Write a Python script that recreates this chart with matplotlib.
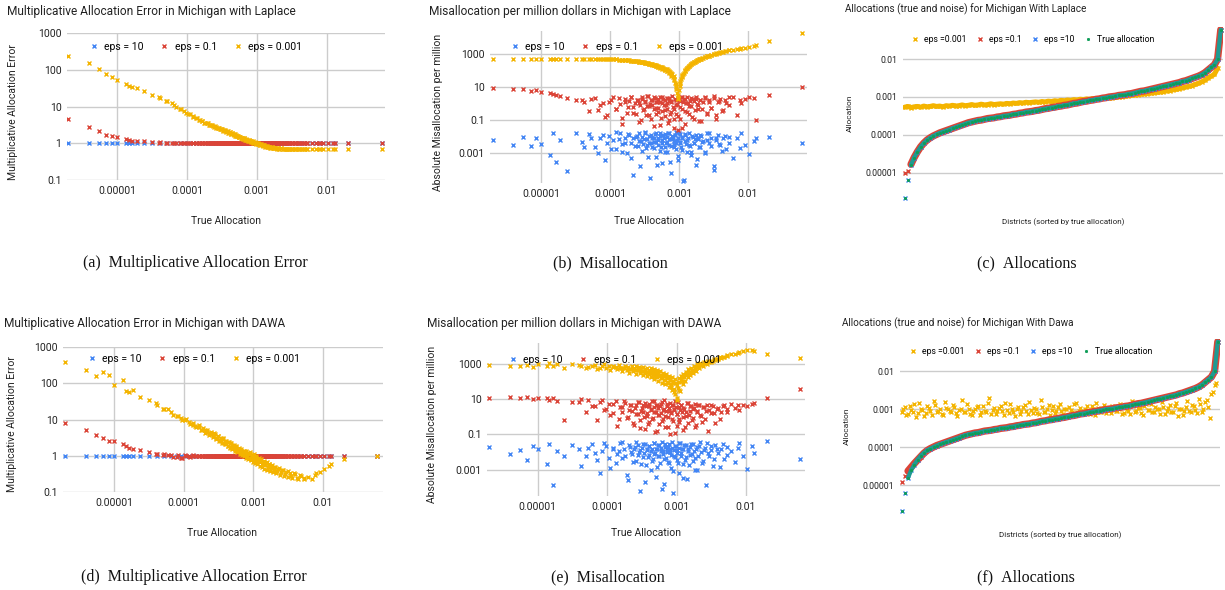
import matplotlib
matplotlib.use("Agg")
import matplotlib.pyplot as plt
import numpy as np

# ---- data (log10 values) ----

# true allocation of each district (sorted), used as x in panels a, b, d, e
TRUE_LOG = [-5.70, -5.40, -5.26, -5.15, -5.07, -5.00, -4.87, -4.83, -4.78, -4.72,
            -4.62, -4.50, -4.38, -4.28, -4.18, -4.10, -4.04, -3.98, -3.92, -3.87,
            -3.83, -3.78, -3.74, -3.70, -3.67, -3.64, -3.61, -3.58, -3.56, -3.54,
            -3.52, -3.50, -3.48, -3.46, -3.44, -3.42, -3.40, -3.39, -3.37, -3.36,
            -3.34, -3.33, -3.31, -3.30, -3.28, -3.27, -3.25, -3.24, -3.22, -3.21,
            -3.20, -3.18, -3.17, -3.15, -3.14, -3.12, -3.11, -3.09, -3.08, -3.06,
            -3.05, -3.03, -3.02, -3.00, -2.99, -2.97, -2.96, -2.94, -2.92, -2.91,
            -2.89, -2.87, -2.85, -2.83, -2.81, -2.79, -2.77, -2.75, -2.73, -2.71,
            -2.69, -2.66, -2.63, -2.60, -2.57, -2.54, -2.50, -2.46, -2.42, -2.38,
            -2.33, -2.28, -2.22, -2.16, -2.12, -2.10, -2.05, -1.99, -1.92, -1.88,
            -1.70, -1.22]
# more districts in the crowded middle range
MID_LOG = [-4.40, -4.30, -4.22, -4.15, -4.08, -4.02, -3.96, -3.91, -3.86, -3.82,
           -3.78, -3.75, -3.72, -3.69, -3.66, -3.63, -3.60, -3.58, -3.55, -3.53,
           -3.51, -3.49, -3.47, -3.45, -3.43, -3.41, -3.39, -3.37, -3.35, -3.33,
           -3.32, -3.30, -3.28, -3.26, -3.25, -3.23, -3.21, -3.19, -3.18, -3.16,
           -3.14, -3.13, -3.11, -3.10, -3.08, -3.07, -3.05, -3.04, -3.02, -3.01,
           -2.99, -2.98, -2.96, -2.95, -2.93, -2.91, -2.90, -2.88, -2.86, -2.84,
           -2.82, -2.80, -2.78, -2.76, -2.74, -2.72, -2.70, -2.68, -2.65, -2.62,
           -2.59, -2.56, -2.53, -2.50, -2.47, -2.44, -2.40, -2.36, -2.32, -2.28]

# (a) multiplicative error, Laplace
A_EPS10 = [0.0] * 102
A_EPS01 = [0.65, 0.44, 0.32, 0.23, 0.21, 0.16, 0.11, 0.08, 0.07, 0.06,
           0.05, 0.04, 0.03, 0.02, 0.015, 0.01, 0.01, 0.005, 0.005, 0.0] + [0.0] * 82
A_EPS0001 = [2.38, 2.18, 2.02, 1.89, 1.80, 1.71, 1.62, 1.57, 1.54, 1.50,
             1.41, 1.30, 1.22, 1.14, 1.03, 0.93, 0.87, 0.80, 0.74, 0.69,
             0.64, 0.61, 0.56, 0.54, 0.50, 0.49, 0.45, 0.44, 0.41, 0.41,
             0.38, 0.38, 0.34, 0.35, 0.31, 0.32, 0.29, 0.30, 0.26, 0.27,
             0.24, 0.25, 0.21, 0.22, 0.19, 0.20, 0.16, 0.17, 0.14, 0.15,
             0.12, 0.13, 0.10, 0.11, 0.08, 0.09, 0.06, 0.07, 0.04, 0.05,
             0.02, 0.03, 0.00, 0.01, -0.02, -0.01, -0.04, -0.03, -0.06, -0.05,
             -0.08, -0.07, -0.10, -0.09, -0.12, -0.10, -0.13, -0.12, -0.14, -0.13,
             -0.15, -0.14, -0.16, -0.15, -0.17, -0.15, -0.17, -0.16, -0.17, -0.15,
             -0.17, -0.16, -0.17, -0.16, -0.17, -0.16, -0.16, -0.17, -0.16, -0.16,
             -0.16, -0.16]
A_MID_EPS01 = [0.0] * 80
A_MID_EPS0001 = [1.25, 1.15, 1.09, 0.98, 0.92, 0.83, 0.79, 0.72, 0.69, 0.62,
                 0.61, 0.56, 0.56, 0.51, 0.50, 0.46, 0.46, 0.42, 0.42, 0.38,
                 0.39, 0.35, 0.36, 0.32, 0.33, 0.29, 0.30, 0.26, 0.27, 0.23,
                 0.24, 0.20, 0.21, 0.17, 0.18, 0.15, 0.15, 0.12, 0.13, 0.10,
                 0.10, 0.07, 0.08, 0.05, 0.06, 0.03, 0.04, 0.01, 0.02, -0.01,
                 0.00, -0.03, -0.02, -0.05, -0.04, -0.07, -0.06, -0.09, -0.08, -0.11,
                 -0.09, -0.12, -0.11, -0.13, -0.12, -0.15, -0.13, -0.16, -0.14, -0.17,
                 -0.15, -0.17, -0.16, -0.17, -0.15, -0.17, -0.16, -0.17, -0.15, -0.16]

# (b) misallocation per million, Laplace
B_EPS10 = [-2.18, -2.50, -2.00, -2.55, -2.05, -2.45, -3.10, -1.80, -3.55, -2.20,
           -4.10, -1.75, -2.60, -2.05, -3.00, -1.90, -2.35, -2.75, -1.70, -2.15,
           -2.90, -2.40, -1.85, -3.30, -2.10, -2.55, -1.95, -2.25, -3.80, -2.00,
           -2.45, -1.80, -2.70, -2.15, -2.35, -4.50, -1.90, -2.60, -2.05, -2.30,
           -3.20, -1.75, -2.50, -2.20, -2.85, -1.95, -2.40, -3.60, -2.10, -2.65,
           -1.85, -2.30, -2.95, -2.15, -1.78, -2.55, -4.20, -2.05, -2.45, -1.90,
           -2.75, -2.20, -3.40, -1.80, -2.35, -2.60, -2.00, -4.70, -2.25, -1.85,
           -2.90, -2.10, -2.50, -3.10, -1.95, -2.40, -2.15, -3.70, -2.05, -2.65,
           -1.90, -2.30, -3.00, -2.20, -1.80, -2.55, -4.00, -2.10, -2.45, -2.85,
           -1.95, -2.35, -3.30, -2.05, -2.70, -1.75, -2.50, -3.05, -2.25, -2.10,
           -2.00, -2.35]
B_EPS01 = [0.93, 0.87, 0.86, 0.75, 0.80, 0.70, 0.62, 0.58, 0.50, 0.45,
           0.35, 0.25, 0.10, 0.30, -0.40, 0.05, -0.70, 0.20, -0.30, 0.35,
           -0.85, 0.10, -0.20, 0.40, -0.55, 0.05, 0.25, -1.10, -0.05, 0.30,
           -0.40, 0.15, -0.70, 0.45, -0.15, 0.00, -0.95, 0.20, -0.35, 0.38,
           -0.60, 0.08, -0.25, 0.30, -1.30, 0.12, -0.45, 0.42, -0.10, -0.75,
           0.25, -0.30, 0.05, -1.00, 0.35, -0.50, 0.15, -0.20, -1.45, 0.30,
           -0.65, 0.00, -1.60, 0.20, -0.90, 0.40, -0.35, 0.10, -1.20, 0.28,
           -0.50, 0.05, -0.15, 0.35, -0.80, 0.18, -0.40, 0.30, -0.05, -1.05,
           0.22, -0.30, 0.40, -0.60, 0.10, -0.25, 0.32, -0.90, 0.15, -0.45,
           0.25, -0.10, 0.38, -0.70, 0.20, 0.05, 0.30, 0.42, 0.35, -1.00,
           0.50, 1.00]
B_EPS0001 = [2.70, 2.72, 2.72, 2.72, 2.71, 2.72, 2.73, 2.72, 2.73, 2.72,
             2.73, 2.72, 2.71, 2.72, 2.70, 2.71, 2.69, 2.70, 2.68, 2.67,
             2.66, 2.64, 2.63, 2.61, 2.60, 2.58, 2.57, 2.55, 2.53, 2.52,
             2.50, 2.48, 2.46, 2.44, 2.42, 2.40, 2.38, 2.36, 2.34, 2.32,
             2.30, 2.28, 2.25, 2.23, 2.20, 2.18, 2.15, 2.12, 2.09, 2.06,
             2.03, 1.99, 1.95, 1.90, 1.85, 1.78, 1.70, 1.60, 1.45, 1.25,
             1.00, 0.65, 0.35, 0.85, 1.25, 1.50, 1.68, 1.82, 1.95, 2.05,
             2.14, 2.23, 2.31, 2.38, 2.44, 2.50, 2.55, 2.60, 2.64, 2.68,
             2.72, 2.77, 2.82, 2.87, 2.91, 2.95, 3.00, 3.05, 3.09, 3.13,
             3.18, 3.22, 3.27, 3.31, 3.34, 3.35, 3.40, 3.45, 3.51, 3.54,
             3.77, 4.28]
B_MID_EPS10 = [-2.30, -1.85, -2.60, -2.05, -3.40, -1.95, -2.20, -2.75, -1.75, -2.45,
               -2.10, -3.00, -1.90, -2.35, -4.30, -2.00, -2.55, -1.80, -2.25, -2.85,
               -2.15, -1.70, -2.50, -3.25, -1.95, -2.40, -2.05, -2.70, -1.85, -2.30,
               -3.70, -2.10, -1.75, -2.60, -2.20, -1.90, -2.95, -2.35, -2.00, -1.80,
               -2.50, -3.50, -2.15, -1.95, -2.65, -2.25, -1.72, -2.40, -3.15, -2.05,
               -2.30, -1.85, -2.80, -2.10, -4.60, -1.90, -2.45, -2.20, -1.78, -2.55,
               -2.95, -2.00, -2.35, -1.88, -3.35, -2.15, -2.60, -1.95, -2.25, -2.90,
               -1.80, -2.40, -2.05, -3.80, -2.20, -1.92, -2.50, -2.10, -2.75, -2.00]
B_MID_EPS01 = [0.20, -0.45, 0.35, -0.10, -0.80, 0.10, 0.40, -0.30, 0.00, -1.20,
               0.30, -0.55, 0.15, 0.42, -0.20, -0.65, 0.25, 0.05, -1.00, 0.38,
               -0.35, 0.10, -0.15, 0.45, -0.70, 0.20, -0.05, -1.35, 0.32, -0.25,
               0.12, -0.50, 0.40, -0.85, 0.02, 0.28, -0.40, -0.10, 0.36, -1.15,
               0.18, -0.60, 0.08, 0.44, -0.30, -0.95, 0.22, -0.05, 0.34, -0.75,
               0.14, -0.20, 0.40, -1.50, 0.26, -0.45, 0.06, 0.38, -0.65, 0.16,
               -0.15, 0.30, -0.90, 0.42, 0.00, -0.35, 0.24, -1.05, 0.10, 0.36,
               -0.55, 0.20, -0.25, 0.44, -0.70, 0.12, 0.30, -0.40, 0.05, 0.38]
B_MID_EPS0001 = [2.71, 2.72, 2.70, 2.71, 2.69, 2.70, 2.68, 2.68, 2.66, 2.66,
                 2.64, 2.63, 2.62, 2.61, 2.59, 2.58, 2.56, 2.55, 2.53, 2.52,
                 2.50, 2.48, 2.46, 2.45, 2.43, 2.41, 2.38, 2.36, 2.34, 2.32,
                 2.30, 2.28, 2.25, 2.22, 2.20, 2.17, 2.13, 2.10, 2.07, 2.02,
                 1.97, 1.93, 1.85, 1.78, 1.65, 1.50, 1.20, 0.90, 0.55, 0.30,
                 1.10, 1.40, 1.62, 1.75, 1.88, 2.00, 2.08, 2.17, 2.26, 2.33,
                 2.40, 2.46, 2.52, 2.57, 2.62, 2.66, 2.70, 2.73, 2.78, 2.83,
                 2.87, 2.91, 2.95, 2.99, 3.02, 3.05, 3.10, 3.14, 3.18, 3.22]

# (d) multiplicative error, DAWA
D_EPS10 = [0.0] * 102
D_EPS01 = [0.90, 0.70, 0.57, 0.50, 0.41, 0.40, 0.32, 0.28, 0.22, 0.18,
           0.15, 0.10, 0.06, 0.04, 0.02, -0.03, -0.06, 0.01, -0.02, 0.0] + [0.0] * 82
D_EPS0001 = [2.59, 2.36, 2.20, 2.30, 2.22, 1.95, 2.08, 1.80, 1.76, 1.82,
             1.62, 1.55, 1.40, 1.30, 1.22, 1.10, 1.05, 0.98, 0.92, 0.85,
             0.82, 0.80, 0.72, 0.70, 0.66, 0.62, 0.60, 0.56, 0.62, 0.50,
             0.48, 0.54, 0.44, 0.42, 0.48, 0.36, 0.40, 0.33, 0.38, 0.28,
             0.34, 0.25, 0.30, 0.22, 0.27, 0.18, 0.24, 0.14, 0.20, 0.12,
             0.18, 0.08, 0.14, 0.04, 0.12, 0.02, 0.08, -0.02, 0.06, -0.05,
             0.10, -0.08, 0.00, -0.10, 0.05, -0.12, -0.02, -0.15, -0.05, -0.18,
             -0.10, -0.22, -0.14, -0.26, -0.18, -0.30, -0.22, -0.34, -0.26, -0.38,
             -0.30, -0.42, -0.34, -0.45, -0.38, -0.50, -0.42, -0.55, -0.48, -0.60,
             -0.52, -0.63, -0.58, -0.65, -0.52, -0.48, -0.45, -0.36, -0.27, -0.24,
             -0.08, 0.00]
D_MID_EPS01 = [0.04, 0.03, 0.02, -0.03, 0.01, -0.06, 0.00, -0.04, 0.01, -0.02] + [0.0] * 70
D_MID_EPS0001 = [1.45, 1.30, 1.28, 1.12, 1.10, 0.98, 1.02, 0.88, 0.90, 0.78,
                 0.86, 0.72, 0.76, 0.64, 0.70, 0.58, 0.66, 0.52, 0.60, 0.46,
                 0.55, 0.42, 0.50, 0.36, 0.47, 0.32, 0.42, 0.28, 0.38, 0.22,
                 0.34, 0.18, 0.30, 0.14, 0.26, 0.10, 0.22, 0.06, 0.18, 0.02,
                 0.14, -0.02, 0.12, -0.06, 0.08, -0.10, 0.05, -0.13, 0.02, -0.16,
                 -0.01, -0.20, -0.05, -0.24, -0.08, -0.28, -0.12, -0.32, -0.16, -0.36,
                 -0.20, -0.38, -0.24, -0.42, -0.28, -0.45, -0.32, -0.48, -0.36, -0.52,
                 -0.40, -0.55, -0.44, -0.58, -0.48, -0.62, -0.50, -0.64, -0.55, -0.60]

# (e) misallocation per million, DAWA
E_EPS10 = [-1.70, -2.10, -1.90, -2.45, -1.65, -1.85, -2.70, -1.55, -3.85, -1.95,
           -2.25, -1.60, -2.80, -1.75, -2.05, -3.20, -1.50, -2.35, -1.80, -2.60,
           -1.95, -1.45, -2.20, -3.60, -1.70, -2.10, -1.85, -2.50, -1.60, -2.00,
           -4.20, -1.75, -2.30, -1.55, -2.75, -1.90, -2.15, -1.65, -3.00, -1.85,
           -2.40, -1.50, -2.05, -3.40, -1.80, -2.25, -1.60, -2.65, -1.95, -1.45,
           -2.10, -3.80, -1.70, -2.35, -1.85, -2.55, -1.55, -2.00, -2.90, -1.75,
           -4.35, -2.20, -1.65, -2.45, -1.90, -3.20, -1.50, -2.05, -1.80, -2.70,
           -1.60, -2.30, -3.55, -1.85, -2.15, -1.55, -2.50, -1.95, -3.00, -1.70,
           -2.25, -1.45, -2.60, -1.90, -3.90, -2.05, -1.65, -2.40, -1.80, -2.85,
           -1.55, -2.15, -1.95, -2.55, -1.75, -1.50, -2.20, -2.95, -1.65, -2.05,
           -1.40, -2.40]
E_EPS01 = [1.10, 1.15, 1.05, 1.12, 1.00, 1.08, 1.10, 0.98, 1.05, 0.92,
           -0.17, 0.85, 1.00, 0.95, 0.60, 0.85, 0.40, 0.75, 0.20, 0.90,
           -0.10, 0.55, 0.80, 0.00, 0.65, 0.35, -0.45, 0.70, 0.15, 0.85,
           -0.20, 0.50, 0.25, -0.70, 0.60, 0.05, 0.75, -0.30, 0.40, 0.90,
           -0.05, 0.55, -0.85, 0.30, 0.70, 0.10, -0.40, 0.60, 0.20, 0.85,
           -0.15, 0.45, -0.60, 0.35, 0.75, 0.00, 0.50, -0.95, 0.25, 0.65,
           -0.25, 0.40, 0.90, -0.50, 0.15, 0.55, -0.10, 0.70, 0.30, -0.75,
           0.45, 0.05, 0.80, -0.35, 0.35, 0.60, -0.05, 0.50, -0.60, 0.25,
           0.70, 0.10, -0.30, 0.55, 0.35, -0.80, 0.65, 0.20, 0.45, -0.15,
           0.60, 0.30, 0.75, 0.50, 0.65, 0.40, 0.70, 0.62, 0.72, 0.80,
           1.08, 1.57]
E_EPS0001 = [2.94, 2.90, 2.88, 2.95, 2.85, 3.00, 2.92, 3.05, 2.88, 2.98,
             2.80, 3.02, 2.90, 2.85, 2.96, 2.78, 3.00, 2.88, 2.92, 2.82,
             2.95, 2.75, 2.90, 2.85, 2.70, 2.92, 2.80, 2.88, 2.65, 2.85,
             2.78, 2.60, 2.82, 2.72, 2.55, 2.80, 2.68, 2.50, 2.75, 2.62,
             2.45, 2.70, 2.55, 2.38, 2.65, 2.48, 2.30, 2.58, 2.40, 2.20,
             2.50, 2.32, 2.10, 2.42, 2.22, 1.95, 2.35, 2.10, 1.70, 2.25,
             1.95, 1.40, 2.15, 0.95, 1.80, 2.20, 1.50, 2.30, 2.05, 2.45,
             2.25, 2.55, 2.40, 2.70, 2.55, 2.80, 2.65, 2.90, 2.78, 2.98,
             2.88, 3.05, 2.98, 3.12, 3.08, 3.20, 3.18, 3.30, 3.28, 3.38,
             3.42, 3.48, 3.55, 3.60, 3.65, 3.68, 3.72, 3.80, 3.78, 3.72,
             3.58, 3.36]
E_MID_EPS10 = [-1.80, -2.20, -1.55, -2.45, -1.95, -1.65, -2.90, -1.75, -2.10, -1.50,
               -2.35, -1.85, -3.30, -1.60, -2.00, -2.55, -1.70, -1.45, -2.15, -1.90,
               -2.70, -1.55, -2.05, -3.70, -1.80, -2.30, -1.65, -1.95, -2.50, -1.50,
               -2.10, -1.85, -2.85, -1.60, -2.25, -1.75, -4.10, -1.95, -2.40, -1.55,
               -2.00, -1.70, -2.65, -1.85, -2.15, -1.45, -3.10, -1.90, -2.30, -1.65,
               -2.05, -2.60, -1.75, -1.50, -2.20, -3.50, -1.80, -2.45, -1.60, -1.95,
               -2.75, -1.70, -2.10, -1.55, -2.35, -1.85, -3.00, -1.65, -2.00, -2.50,
               -1.75, -1.50, -2.25, -1.90, -2.80, -1.60, -2.05, -1.80, -2.40, -1.70]
E_MID_EPS01 = [0.85, 0.30, 0.60, -0.20, 0.95, 0.45, 0.10, 0.75, -0.50, 0.55,
               0.25, 0.90, -0.05, 0.40, 0.70, -0.35, 0.50, 0.15, 0.85, -0.65,
               0.35, 0.65, 0.00, 0.80, 0.20, -0.40, 0.60, 0.45, -0.15, 0.90,
               0.30, 0.70, -0.80, 0.50, 0.10, 0.75, -0.25, 0.40, 0.95, 0.05,
               0.60, -0.55, 0.35, 0.80, 0.20, -0.10, 0.65, 0.45, -0.90, 0.55,
               0.15, 0.85, -0.30, 0.40, 0.70, 0.00, 0.50, -0.60, 0.30, 0.80,
               0.10, 0.60, -0.20, 0.45, 0.75, -0.45, 0.35, 0.65, 0.05, 0.55,
               -0.15, 0.70, 0.40, 0.20, 0.60, -0.35, 0.50, 0.30, 0.65, 0.45]
E_MID_EPS0001 = [2.95, 2.80, 2.90, 2.72, 2.88, 2.78, 2.65, 2.85, 2.70, 2.80,
                 2.60, 2.76, 2.68, 2.50, 2.74, 2.58, 2.66, 2.45, 2.70, 2.52,
                 2.62, 2.38, 2.60, 2.48, 2.30, 2.56, 2.42, 2.25, 2.50, 2.35,
                 2.15, 2.45, 2.28, 2.05, 2.40, 2.20, 1.95, 2.35, 2.10, 1.85,
                 2.25, 1.98, 1.70, 2.15, 1.85, 1.55, 2.05, 1.60, 1.30, 1.90,
                 1.10, 1.65, 2.00, 1.45, 2.15, 1.85, 2.30, 2.05, 2.42, 2.25,
                 2.55, 2.40, 2.65, 2.52, 2.75, 2.62, 2.85, 2.75, 2.95, 2.88,
                 3.05, 3.00, 3.12, 3.10, 3.20, 3.22, 3.30, 3.35, 3.42, 3.50]

# (c), (f) allocations by district rank
CURVE_LOG = [-5.67, -5.20, -4.80, -4.60, -4.45, -4.32, -4.22, -4.14, -4.08, -4.03,
             -3.99, -3.95, -3.92, -3.89, -3.86, -3.83, -3.80, -3.77, -3.74, -3.71,
             -3.68, -3.66, -3.64, -3.62, -3.61, -3.59, -3.57, -3.56, -3.55, -3.53,
             -3.52, -3.50, -3.49, -3.48, -3.46, -3.45, -3.43, -3.42, -3.40, -3.39,
             -3.38, -3.36, -3.35, -3.33, -3.31, -3.30, -3.28, -3.27, -3.25, -3.24,
             -3.22, -3.21, -3.19, -3.17, -3.16, -3.14, -3.12, -3.11, -3.09, -3.08,
             -3.06, -3.05, -3.03, -3.02, -3.00, -2.99, -2.98, -2.96, -2.95, -2.94,
             -2.92, -2.91, -2.89, -2.87, -2.85, -2.84, -2.82, -2.80, -2.78, -2.76,
             -2.74, -2.72, -2.70, -2.68, -2.66, -2.64, -2.62, -2.59, -2.57, -2.54,
             -2.51, -2.48, -2.45, -2.41, -2.36, -2.29, -2.22, -2.15, -2.00, -1.22]
C_EPS01 = [-5.00, -4.95, -4.78] + CURVE_LOG[3:]
C_EPS0001 = [-3.27, -3.25, -3.28, -3.26, -3.25, -3.27, -3.24, -3.26, -3.25, -3.23,
             -3.25, -3.24, -3.26, -3.23, -3.24, -3.22, -3.24, -3.23, -3.21, -3.23,
             -3.22, -3.20, -3.22, -3.21, -3.19, -3.21, -3.20, -3.18, -3.20, -3.19,
             -3.18, -3.19, -3.17, -3.18, -3.16, -3.17, -3.15, -3.16, -3.14, -3.15,
             -3.14, -3.13, -3.14, -3.12, -3.13, -3.11, -3.12, -3.10, -3.11, -3.09,
             -3.10, -3.08, -3.09, -3.07, -3.08, -3.06, -3.07, -3.05, -3.06, -3.04,
             -3.05, -3.04, -3.03, -3.04, -3.03, -3.02, -3.01, -3.00, -2.99, -2.98,
             -2.97, -2.96, -2.95, -2.94, -2.93, -2.92, -2.91, -2.90, -2.89, -2.88,
             -2.87, -2.86, -2.84, -2.83, -2.81, -2.80, -2.78, -2.76, -2.74, -2.72,
             -2.70, -2.67, -2.64, -2.60, -2.56, -2.50, -2.45, -2.40, -2.24, -1.22]
F_EPS01 = [-4.91, -4.74, -4.62, -4.52, -4.42, -4.33, -4.24, -4.15] + CURVE_LOG[8:]
F_EPS0001 = [-3.08, -2.95, -3.12, -3.02, -2.85, -3.10, -3.00, -3.18, -2.92, -3.05,
             -2.78, -3.08, -3.00, -3.15, -2.96, -3.04, -2.88, -3.10, -3.02, -2.75,
             -3.06, -2.98, -3.14, -3.00, -2.90, -3.08, -3.03, -2.82, -3.12, -2.97,
             -3.05, -2.92, -3.16, -3.01, -2.86, -3.07, -2.99, -3.11, -2.94, -3.04,
             -2.80, -3.09, -3.00, -3.13, -2.95, -3.06, -2.89, -3.02, -3.10, -2.93,
             -3.05, -2.98, -3.15, -3.01, -2.87, -3.08, -2.97, -3.04, -2.91, -3.12,
             -3.00, -2.84, -3.06, -2.96, -3.09, -3.01, -2.90, -3.05, -2.99, -3.13,
             -2.93, -3.03, -2.78, -3.07, -2.97, -3.10, -2.92, -3.02, -2.86, -3.06,
             -2.98, -3.12, -2.95, -3.04, -2.89, -3.08, -2.82, -3.00, -3.14, -2.94,
             -3.05, -2.88, -3.02, -2.72, -3.08, -2.80, -2.95, -2.60, -2.35, -1.23]
# second set of districts for (f), lying between the ranks above
F_HALF_EPS0001 = [-2.98, -3.14, -2.90, -3.06, -3.20, -2.84, -3.02, -3.10, -2.96, -3.16,
                  -2.88, -3.04, -3.12, -2.80, -3.00, -3.08, -2.93, -3.18, -2.99, -3.06,
                  -2.86, -3.11, -3.03, -2.95, -3.15, -2.91, -3.07, -2.70, -3.01, -3.13,
                  -2.97, -3.05, -2.83, -3.09, -3.00, -3.17, -2.94, -3.04, -2.89, -3.12,
                  -3.02, -2.96, -3.10, -2.76, -3.06, -2.99, -3.14, -2.92, -3.03, -2.87,
                  -3.11, -3.00, -2.95, -3.08, -2.82, -3.05, -3.13, -2.98, -3.02, -2.90,
                  -3.16, -2.96, -3.07, -2.88, -3.01, -3.10, -2.93, -3.04, -2.85, -3.09,
                  -2.99, -3.12, -2.91, -3.05, -2.97, -3.15, -2.87, -3.02, -3.08, -2.94,
                  -3.00, -2.81, -3.11, -2.96, -3.06, -2.90, -3.18, -2.98, -3.03, -2.79,
                  -3.07, -2.92, -3.10, -2.86, -2.98, -2.75, -3.22, -2.55, -2.30]

BLUE, RED, YELLOW, GREEN = "#4285F4", "#DB4437", "#F4B400", "#0F9D58"
TEAL = "#1f9a92"
SANS = ["Roboto", "DejaVu Sans"]
SERIF = ["Liberation Serif", "DejaVu Serif"]
TXT = "#222222"
GRID = "#cccccc"

W, H = 1225, 590
fig = plt.figure(figsize=(W / 100, H / 100), dpi=100)


def px(v):
    return 10 ** np.array(v)


def add_ax(x0, y0, x1, y1):
    return fig.add_axes([x0 / W, 1 - y1 / H, (x1 - x0) / W, (y1 - y0) / H])


def style(ax, xlog, ylim, yticks, ylabels, fs, xlim=None):
    ax.set_yscale("log")
    ax.set_ylim(*ylim)
    if xlog:
        ax.set_xscale("log")
        ax.set_xlim(*xlim)
        ax.set_xticks([1e-5, 1e-4, 1e-3, 1e-2])
        ax.set_xticklabels(["0.00001", "0.0001", "0.001", "0.01"])
        ax.xaxis.set_minor_locator(matplotlib.ticker.NullLocator())
        ax.grid(True, axis="x", color=GRID, lw=1)
    else:
        ax.set_xlim(*xlim)
        ax.set_xticks([])
    ax.set_yticks(yticks)
    ax.set_yticklabels(ylabels)
    ax.yaxis.set_minor_locator(matplotlib.ticker.NullLocator())
    ax.grid(True, axis="y", color=GRID, lw=1)
    ax.set_axisbelow(True)
    for s in ax.spines.values():
        s.set_visible(False)
    ax.tick_params(length=0, labelsize=fs, colors=TXT, pad=4)
    for t in ax.get_xticklabels() + ax.get_yticklabels():
        t.set_family(SANS)


def legend(ax, handles, labels, cx, cy, fs, spacing):
    ax.legend(handles, labels, loc="center", bbox_to_anchor=(cx / W, 1 - cy / H),
              bbox_transform=fig.transFigure, ncol=len(handles), frameon=False,
              prop={"family": SANS, "size": fs}, handlelength=0.8, handletextpad=0.6,
              columnspacing=spacing, borderpad=0, markerscale=1.0)


def label(x, y, s, fs, ha="center", rot=0):
    fig.text(x / W, 1 - y / H, s, ha=ha, va="center", fontsize=fs, family=SANS,
             color=TXT, rotation=rot)


def pts(ax, x, y, c, z, ms=3.4):
    return ax.plot(x, y, "x", color=c, ms=ms, mew=1.0, zorder=z, linestyle="none")[0]


def band(ax, x, y, c, z, lw):
    # the districts sit so close together in the original that they form a band
    ax.plot(x, y, "-", color=c, lw=lw, zorder=z, solid_capstyle="round",
            solid_joinstyle="round")


tx = px(TRUE_LOG)
mx = px(MID_LOG)
lab3 = ["eps = 10", "eps = 0.1", "eps = 0.001"]


def error_panel(box, ylim, yt, yl, xlim, sets, leg_xy):
    ax = add_ax(*box)
    style(ax, True, ylim, yt, yl, 7.5, xlim=xlim)
    handles = []
    for z, (c, y_main, y_mid) in enumerate(sets):
        handles.append(pts(ax, tx, px(y_main), c, 3 + z))
        if y_mid is not None:
            pts(ax, mx, px(y_mid), c, 3 + z)
    legend(ax, handles, lab3, leg_xy[0], leg_xy[1], 7.5, 1.6)
    return ax


# ---- (a) ----
error_panel((67, 33, 385, 180), (0.1, 1000), [0.1, 1, 10, 100, 1000],
            ["0.1", "1", "10", "100", "1000"], (10 ** -5.714, 10 ** -1.17),
            [(BLUE, A_EPS10, None), (RED, A_EPS01, A_MID_EPS01), (YELLOW, A_EPS0001, A_MID_EPS0001)],
            (196, 47))
label(7, 12, "Multiplicative Allocation Error in Michigan with Laplace", 8.6, ha="left")
label(13, 112, "Multiplicative Allocation Error", 7.5, rot=90)
label(226, 221, "True Allocation", 7.5)

# ---- (b) ----
error_panel((490, 31, 807, 183), (10 ** -4.8, 10 ** 4.4), [0.001, 0.1, 10, 1000],
            ["0.001", "0.1", "10", "1000"], (10 ** -5.74, 10 ** -1.145),
            [(BLUE, B_EPS10, B_MID_EPS10), (RED, B_EPS01, B_MID_EPS01), (YELLOW, B_EPS0001, B_MID_EPS0001)],
            (617, 47))
label(429, 12, "Misallocation per million dollars in Michigan with Laplace", 8.6, ha="left")
label(438, 112, "Absolute Misallocation per million", 7.5, rot=90)
label(649, 221, "True Allocation", 7.5)

# ---- (d) ----
error_panel((63, 347, 383, 492), (0.1, 1000), [0.1, 1, 10, 100, 1000],
            ["0.1", "1", "10", "100", "1000"], (10 ** -5.73, 10 ** -1.14),
            [(BLUE, D_EPS10, None), (RED, D_EPS01, D_MID_EPS01), (YELLOW, D_EPS0001, D_MID_EPS0001)],
            (194, 359))
label(4, 323, "Multiplicative Allocation Error in Michigan with DAWA", 8.6, ha="left")
label(12, 424, "Multiplicative Allocation Error", 7.5, rot=90)
label(222, 533, "True Allocation", 7.5)

# ---- (e) ----
error_panel((487, 343, 805, 496), (10 ** -4.5, 10 ** 4.2), [0.001, 0.1, 10, 1000],
            ["0.001", "0.1", "10", "1000"], (10 ** -5.73, 10 ** -1.15),
            [(BLUE, E_EPS10, E_MID_EPS10), (RED, E_EPS01, E_MID_EPS01), (YELLOW, E_EPS0001, E_MID_EPS0001)],
            (615, 360))
label(427, 323, "Misallocation per million dollars in Michigan with DAWA", 8.6, ha="left")
label(432, 424, "Absolute Misallocation per million", 7.5, rot=90)
label(646, 533, "True Allocation", 7.5)

# ---- (c) and (f) ----
rank = np.arange(len(CURVE_LOG))
lab4 = ["eps =0.001", "eps =0.1", "eps =10", "True allocation"]


def alloc_panel(box, y_yellow, y_red, leg_xy, dense_yellow, y_half=None):
    ax = add_ax(*box)
    style(ax, False, (10 ** -5.75, 10 ** -1.15), [1e-5, 1e-4, 1e-3, 1e-2],
          ["0.00001", "0.0001", "0.001", "0.01"], 6.3, xlim=(-0.5, len(CURVE_LOG) - 0.3))
    if dense_yellow:
        band(ax, rank[:-1], px(y_yellow[:-1]), YELLOW, 2, 3.6)
    if y_half is not None:
        pts(ax, rank[:-1] + 0.5, px(y_half), YELLOW, 3, 2.8)
    band(ax, rank[2:], px(y_red[2:]), RED, 3.5, 5.2)
    band(ax, rank[2:], px(CURVE_LOG[2:]), TEAL, 5.5, 3.0)
    h = [pts(ax, rank, px(y_yellow), YELLOW, 3, 2.8), pts(ax, rank, px(y_red), RED, 4, 2.8),
         pts(ax, rank, px(CURVE_LOG), BLUE, 5, 2.4), pts(ax, rank, px(CURVE_LOG), GREEN, 6, 1.6)]
    legend(ax, h, lab4, leg_xy[0], leg_xy[1], 6.2, 1.2)


alloc_panel((903, 27, 1223, 201), C_EPS0001, C_EPS01, (1033, 40), True)
label(845, 9, "Allocations (true and noise) for Michigan With Laplace", 7.2, ha="left")
label(850, 113, "Allocation", 6.0, rot=90)
label(1063, 222, "Districts (sorted by true allocation)", 5.8)

alloc_panel((900, 339, 1220, 514), F_EPS0001, F_EPS01, (1031, 352), False, F_HALF_EPS0001)
label(842, 323, "Allocations (true and noise) for Michigan With Dawa", 7.2, ha="left")
label(847, 426, "Allocation", 6.0, rot=90)
label(1060, 535, "Districts (sorted by true allocation)", 5.8)

# ---- captions ----
captions = [("(a)", "Multiplicative Allocation Error", 195, 263),
            ("(b)", "Misallocation", 610, 263),
            ("(c)", "Allocations", 1027, 263),
            ("(d)", "Multiplicative Allocation Error", 194, 577),
            ("(e)", "Misallocation", 608, 577),
            ("(f)", "Allocations", 1026, 577)]
for tag, cap, cx, cy in captions:
    fig.text(cx / W, 1 - cy / H, tag + "\u2002" + cap, ha="center", va="center",
             fontsize=11.5, family=SERIF, color="#111111")

fig.savefig("out.png", dpi=100)
